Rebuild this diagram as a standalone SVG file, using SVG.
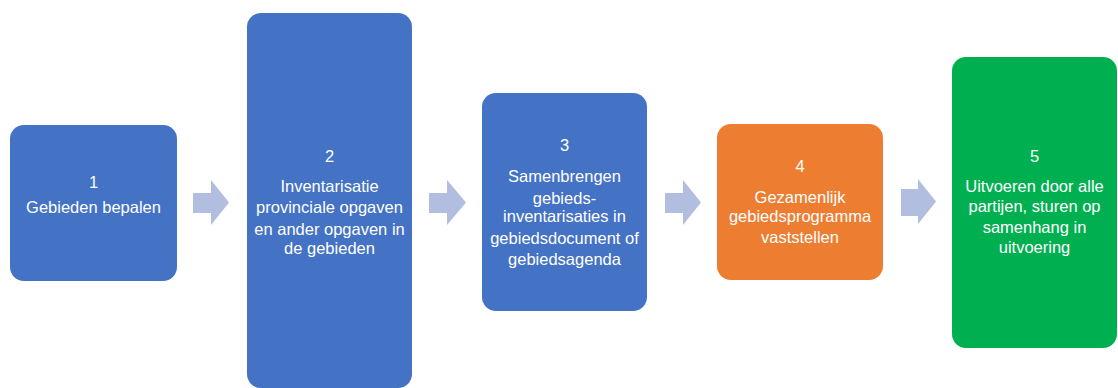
<svg xmlns="http://www.w3.org/2000/svg" width="1118" height="388" viewBox="0 0 1118 388">
<style>
.box{stroke:none}
.blue{fill:#4472C4}
.orange{fill:#ED7D31}
.green{fill:#00B050}
.arr{fill:#B1BEE0}
text{font-family:"Liberation Sans",Arial,sans-serif;font-size:16.5px;fill:#FFFFFF;text-anchor:middle}
</style>
<rect width="1118" height="388" fill="#FFFFFF"/>
<g id="node1">
<rect class="box blue" x="10" y="125" width="167" height="156" rx="14"/>
<text x="93.5" y="188">1</text>
<text x="93.5" y="213">Gebieden bepalen</text>
</g>
<g id="node2">
<rect class="box blue" x="247" y="13" width="165" height="375" rx="14"/>
<text x="329.5" y="162">2</text>
<text x="329.5" y="192">Inventarisatie</text>
<text x="329.5" y="213">provinciale opgaven</text>
<text x="329.5" y="235">en ander opgaven in</text>
<text x="329.5" y="254">de gebieden</text>
</g>
<g id="node3">
<rect class="box blue" x="482" y="93" width="165" height="218" rx="14"/>
<text x="564.5" y="151">3</text>
<text x="564.5" y="182">Samenbrengen</text>
<text x="564.5" y="204">gebieds-</text>
<text x="564.5" y="222">inventarisaties in</text>
<text x="564.5" y="244">gebiedsdocument of</text>
<text x="564.5" y="265">gebiedsagenda</text>
</g>
<g id="node4">
<rect class="box orange" x="717" y="124" width="166" height="156" rx="14"/>
<text x="800" y="172">4</text>
<text x="800" y="203">Gezamenlijk</text>
<text x="800" y="222">gebiedsprogramma</text>
<text x="800" y="243">vaststellen</text>
</g>
<g id="node5">
<rect class="box green" x="952" y="57" width="165" height="291" rx="14"/>
<text x="1034.5" y="162">5</text>
<text x="1034.5" y="192">Uitvoeren door alle</text>
<text x="1034.5" y="212">partijen, sturen op</text>
<text x="1034.5" y="233">samenhang in</text>
<text x="1034.5" y="253">uitvoering</text>
</g>
<g id="connectors">
<polygon class="arr" points="193,193 211,193 211,180 229,202.5 211,225 211,213 193,213"/>
<polygon class="arr" points="429,193 447,193 447,180 466,202.5 447,225 447,213 429,213"/>
<polygon class="arr" points="665,193 683,193 683,180 701,202.5 683,225 683,213 665,213"/>
<polygon class="arr" points="901,189 918,189 918,179 936,201.5 918,224 918,216 901,216"/>
</g>
</svg>
